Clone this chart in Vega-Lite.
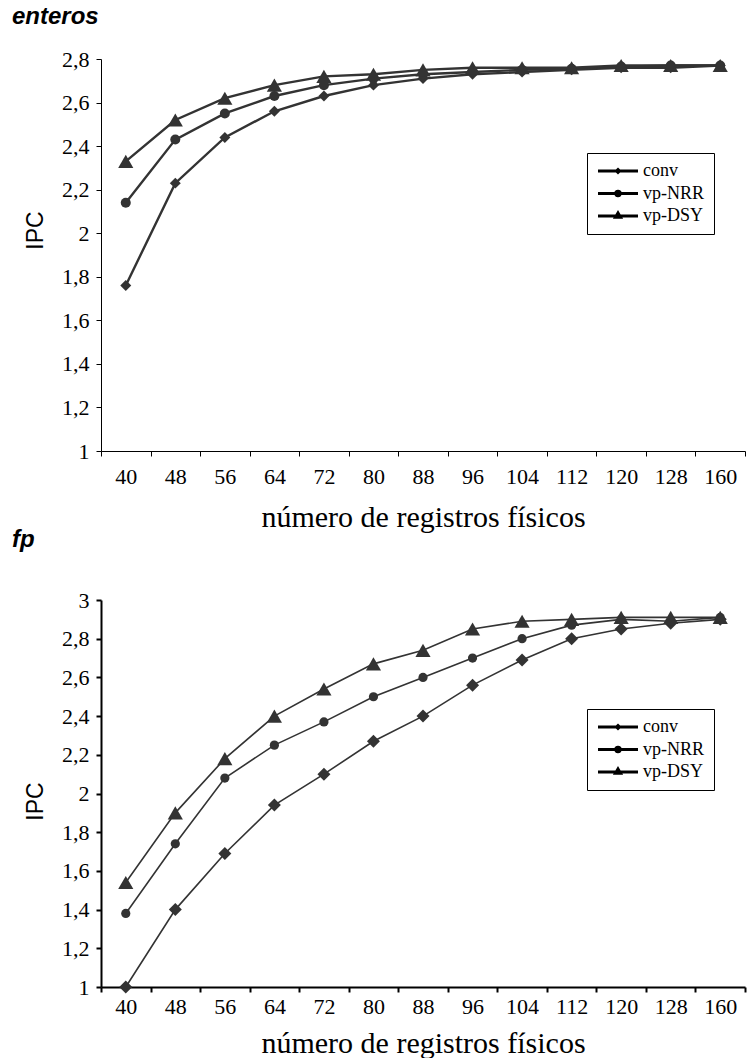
{
  "$schema": "https://vega.github.io/schema/vega-lite/v6.json",
  "padding": {"left": 12, "top": 5, "right": 1, "bottom": 0},
  "background": "white",
  "config": {
    "view": {"stroke": null},
    "title": {"font": "Liberation Sans", "fontSize": 24, "fontWeight": "bold", "fontStyle": "italic", "color": "black", "anchor": "start", "frame": "group"},
    "axis": {"grid": false, "domainColor": "black", "tickColor": "black", "labelColor": "black", "titleColor": "black", "tickSize": 5, "labelFont": "Liberation Serif", "labelFontSize": 22},
    "legend": {"orient": "none", "title": null, "strokeColor": "black", "fillColor": "white", "padding": 9, "symbolSize": 4, "symbolStrokeWidth": 3, "symbolOffset": 13, "labelOffset": 16, "labelFont": "Liberation Serif", "labelFontSize": 18, "labelColor": "black", "rowPadding": 4.5}
  },
  "datasets": {
    "enteros": [
      {"regs": 40, "serie": "conv", "ipc": 1.76}, {"regs": 48, "serie": "conv", "ipc": 2.23}, {"regs": 56, "serie": "conv", "ipc": 2.44}, {"regs": 64, "serie": "conv", "ipc": 2.56}, {"regs": 72, "serie": "conv", "ipc": 2.63}, {"regs": 80, "serie": "conv", "ipc": 2.68}, {"regs": 88, "serie": "conv", "ipc": 2.71}, {"regs": 96, "serie": "conv", "ipc": 2.73}, {"regs": 104, "serie": "conv", "ipc": 2.74}, {"regs": 112, "serie": "conv", "ipc": 2.75}, {"regs": 120, "serie": "conv", "ipc": 2.76}, {"regs": 128, "serie": "conv", "ipc": 2.76}, {"regs": 160, "serie": "conv", "ipc": 2.77},
      {"regs": 40, "serie": "vp-NRR", "ipc": 2.14}, {"regs": 48, "serie": "vp-NRR", "ipc": 2.43}, {"regs": 56, "serie": "vp-NRR", "ipc": 2.55}, {"regs": 64, "serie": "vp-NRR", "ipc": 2.63}, {"regs": 72, "serie": "vp-NRR", "ipc": 2.68}, {"regs": 80, "serie": "vp-NRR", "ipc": 2.71}, {"regs": 88, "serie": "vp-NRR", "ipc": 2.73}, {"regs": 96, "serie": "vp-NRR", "ipc": 2.74}, {"regs": 104, "serie": "vp-NRR", "ipc": 2.75}, {"regs": 112, "serie": "vp-NRR", "ipc": 2.755}, {"regs": 120, "serie": "vp-NRR", "ipc": 2.765}, {"regs": 128, "serie": "vp-NRR", "ipc": 2.77}, {"regs": 160, "serie": "vp-NRR", "ipc": 2.77},
      {"regs": 40, "serie": "vp-DSY", "ipc": 2.33}, {"regs": 48, "serie": "vp-DSY", "ipc": 2.52}, {"regs": 56, "serie": "vp-DSY", "ipc": 2.62}, {"regs": 64, "serie": "vp-DSY", "ipc": 2.68}, {"regs": 72, "serie": "vp-DSY", "ipc": 2.72}, {"regs": 80, "serie": "vp-DSY", "ipc": 2.73}, {"regs": 88, "serie": "vp-DSY", "ipc": 2.75}, {"regs": 96, "serie": "vp-DSY", "ipc": 2.76}, {"regs": 104, "serie": "vp-DSY", "ipc": 2.76}, {"regs": 112, "serie": "vp-DSY", "ipc": 2.76}, {"regs": 120, "serie": "vp-DSY", "ipc": 2.77}, {"regs": 128, "serie": "vp-DSY", "ipc": 2.77}, {"regs": 160, "serie": "vp-DSY", "ipc": 2.77}
    ],
    "fp": [
      {"regs": 40, "serie": "conv", "ipc": 1.0}, {"regs": 48, "serie": "conv", "ipc": 1.40}, {"regs": 56, "serie": "conv", "ipc": 1.69}, {"regs": 64, "serie": "conv", "ipc": 1.94}, {"regs": 72, "serie": "conv", "ipc": 2.10}, {"regs": 80, "serie": "conv", "ipc": 2.27}, {"regs": 88, "serie": "conv", "ipc": 2.40}, {"regs": 96, "serie": "conv", "ipc": 2.56}, {"regs": 104, "serie": "conv", "ipc": 2.69}, {"regs": 112, "serie": "conv", "ipc": 2.80}, {"regs": 120, "serie": "conv", "ipc": 2.85}, {"regs": 128, "serie": "conv", "ipc": 2.88}, {"regs": 160, "serie": "conv", "ipc": 2.90},
      {"regs": 40, "serie": "vp-NRR", "ipc": 1.38}, {"regs": 48, "serie": "vp-NRR", "ipc": 1.74}, {"regs": 56, "serie": "vp-NRR", "ipc": 2.08}, {"regs": 64, "serie": "vp-NRR", "ipc": 2.25}, {"regs": 72, "serie": "vp-NRR", "ipc": 2.37}, {"regs": 80, "serie": "vp-NRR", "ipc": 2.50}, {"regs": 88, "serie": "vp-NRR", "ipc": 2.60}, {"regs": 96, "serie": "vp-NRR", "ipc": 2.70}, {"regs": 104, "serie": "vp-NRR", "ipc": 2.80}, {"regs": 112, "serie": "vp-NRR", "ipc": 2.87}, {"regs": 120, "serie": "vp-NRR", "ipc": 2.90}, {"regs": 128, "serie": "vp-NRR", "ipc": 2.89}, {"regs": 160, "serie": "vp-NRR", "ipc": 2.91},
      {"regs": 40, "serie": "vp-DSY", "ipc": 1.54}, {"regs": 48, "serie": "vp-DSY", "ipc": 1.90}, {"regs": 56, "serie": "vp-DSY", "ipc": 2.18}, {"regs": 64, "serie": "vp-DSY", "ipc": 2.40}, {"regs": 72, "serie": "vp-DSY", "ipc": 2.54}, {"regs": 80, "serie": "vp-DSY", "ipc": 2.67}, {"regs": 88, "serie": "vp-DSY", "ipc": 2.74}, {"regs": 96, "serie": "vp-DSY", "ipc": 2.85}, {"regs": 104, "serie": "vp-DSY", "ipc": 2.89}, {"regs": 112, "serie": "vp-DSY", "ipc": 2.90}, {"regs": 120, "serie": "vp-DSY", "ipc": 2.91}, {"regs": 128, "serie": "vp-DSY", "ipc": 2.91}, {"regs": 160, "serie": "vp-DSY", "ipc": 2.91}
    ]
  },
  "resolve": {"scale": {"shape": "independent", "x": "independent", "y": "independent"}, "legend": {"shape": "independent"}},
  "spacing": -5,
  "vconcat": [
    {
      "title": {"text": "enteros", "dx": -89, "offset": 19},
      "width": 644,
      "height": 392,
      "data": {"name": "enteros"},
      "encoding": {
        "x": {"field": "regs", "type": "ordinal", "bandPosition": 0.5,
          "scale": {"type": "band", "paddingInner": 0, "paddingOuter": 0},
          "axis": {"title": "número de registros físicos", "titleFont": "Liberation Serif", "titleFontSize": 30, "titleFontWeight": "normal", "labelAngle": 0, "tickBand": "extent", "labelPadding": 10, "titlePadding": 15, "labelOverlap": false, "domainWidth": 1, "tickWidth": 1}},
        "y": {"field": "ipc", "type": "quantitative",
          "scale": {"domain": [1, 2.8], "nice": false, "zero": false},
          "axis": {"title": "IPC", "titleFont": "Liberation Sans", "titleFontSize": 23, "titleFontWeight": "normal", "values": [1, 1.2, 1.4, 1.6, 1.8, 2, 2.2, 2.4, 2.6, 2.8], "format": "~g", "labelExpr": "replace(datum.label, '.', ',')", "labelPadding": 7, "titlePadding": 14, "titleY": 171, "domainWidth": 1, "tickWidth": 1}}
      },
      "resolve": {"scale": {"shape": "independent"}, "legend": {"shape": "independent"}},
      "layer": [
        {"mark": {"type": "line", "color": "#333333", "strokeWidth": 2.4}, "encoding": {"detail": {"field": "serie"}}},
        {"mark": {"type": "point", "filled": true, "color": "#333333", "opacity": 1, "strokeWidth": 0},
          "encoding": {
            "shape": {"field": "serie", "type": "nominal", "legend": null,
              "scale": {"domain": ["conv", "vp-NRR", "vp-DSY"], "range": ["diamond", "circle", "triangle-up"]}},
            "size": {"condition": [{"test": "datum.serie === 'vp-DSY'", "value": 230}, {"test": "datum.serie === 'vp-NRR'", "value": 100}], "value": 120}
          }},
        {"transform": [{"filter": "false"}],
          "mark": {"type": "point", "filled": false, "color": "black", "opacity": 1, "strokeWidth": 3},
          "encoding": {
            "shape": {"field": "serie", "type": "nominal",
              "scale": {"domain": ["conv", "vp-NRR", "vp-DSY"], "range": ["M-20,0H20M0,-1.5L1.5,0L0,1.5L-1.5,0Z", "M-20,0H20M-2.2,0A2.2,2.2,0,1,1,2.2,0A2.2,2.2,0,1,1,-2.2,0Z", "M-20,0H20M0,-3L2.5,1.2L-2.5,1.2Z"]},
              "legend": {"legendX": 486, "legendY": 94}}
          }}
      ]
    },
    {
      "title": {"text": "fp", "dx": -89, "offset": 37.5},
      "width": 644,
      "height": 387,
      "data": {"name": "fp"},
      "encoding": {
        "x": {"field": "regs", "type": "ordinal", "bandPosition": 0.5,
          "scale": {"type": "band", "paddingInner": 0, "paddingOuter": 0},
          "axis": {"title": "número de registros físicos", "titleFont": "Liberation Serif", "titleFontSize": 30, "titleFontWeight": "normal", "labelAngle": 0, "tickBand": "extent", "labelPadding": 4, "titlePadding": 11, "labelOverlap": false, "domainWidth": 2, "tickWidth": 2}},
        "y": {"field": "ipc", "type": "quantitative",
          "scale": {"domain": [1, 3], "nice": false, "zero": false},
          "axis": {"title": "IPC", "titleFont": "Liberation Sans", "titleFontSize": 23, "titleFontWeight": "normal", "values": [1, 1.2, 1.4, 1.6, 1.8, 2, 2.2, 2.4, 2.6, 2.8, 3], "format": "~g", "labelExpr": "replace(datum.label, '.', ',')", "labelPadding": 7, "titlePadding": 14, "titleY": 201, "domainWidth": 2, "tickWidth": 2}}
      },
      "resolve": {"scale": {"shape": "independent"}, "legend": {"shape": "independent"}},
      "layer": [
        {"mark": {"type": "line", "color": "#333333", "strokeWidth": 1.6}, "encoding": {"detail": {"field": "serie"}}},
        {"mark": {"type": "point", "filled": true, "color": "#333333", "opacity": 1, "strokeWidth": 0},
          "encoding": {
            "shape": {"field": "serie", "type": "nominal", "legend": null,
              "scale": {"domain": ["conv", "vp-NRR", "vp-DSY"], "range": ["diamond", "circle", "triangle-up"]}},
            "size": {"condition": [{"test": "datum.serie === 'vp-DSY'", "value": 230}, {"test": "datum.serie === 'vp-NRR'", "value": 85}], "value": 169}
          }},
        {"transform": [{"filter": "false"}],
          "mark": {"type": "point", "filled": false, "color": "black", "opacity": 1, "strokeWidth": 3},
          "encoding": {
            "shape": {"field": "serie", "type": "nominal",
              "scale": {"domain": ["conv", "vp-NRR", "vp-DSY"], "range": ["M-20,0H20M0,-1.5L1.5,0L0,1.5L-1.5,0Z", "M-20,0H20M-2.2,0A2.2,2.2,0,1,1,2.2,0A2.2,2.2,0,1,1,-2.2,0Z", "M-20,0H20M0,-3L2.5,1.2L-2.5,1.2Z"]},
              "legend": {"legendX": 486, "legendY": 109}}
          }}
      ]
    }
  ]
}
